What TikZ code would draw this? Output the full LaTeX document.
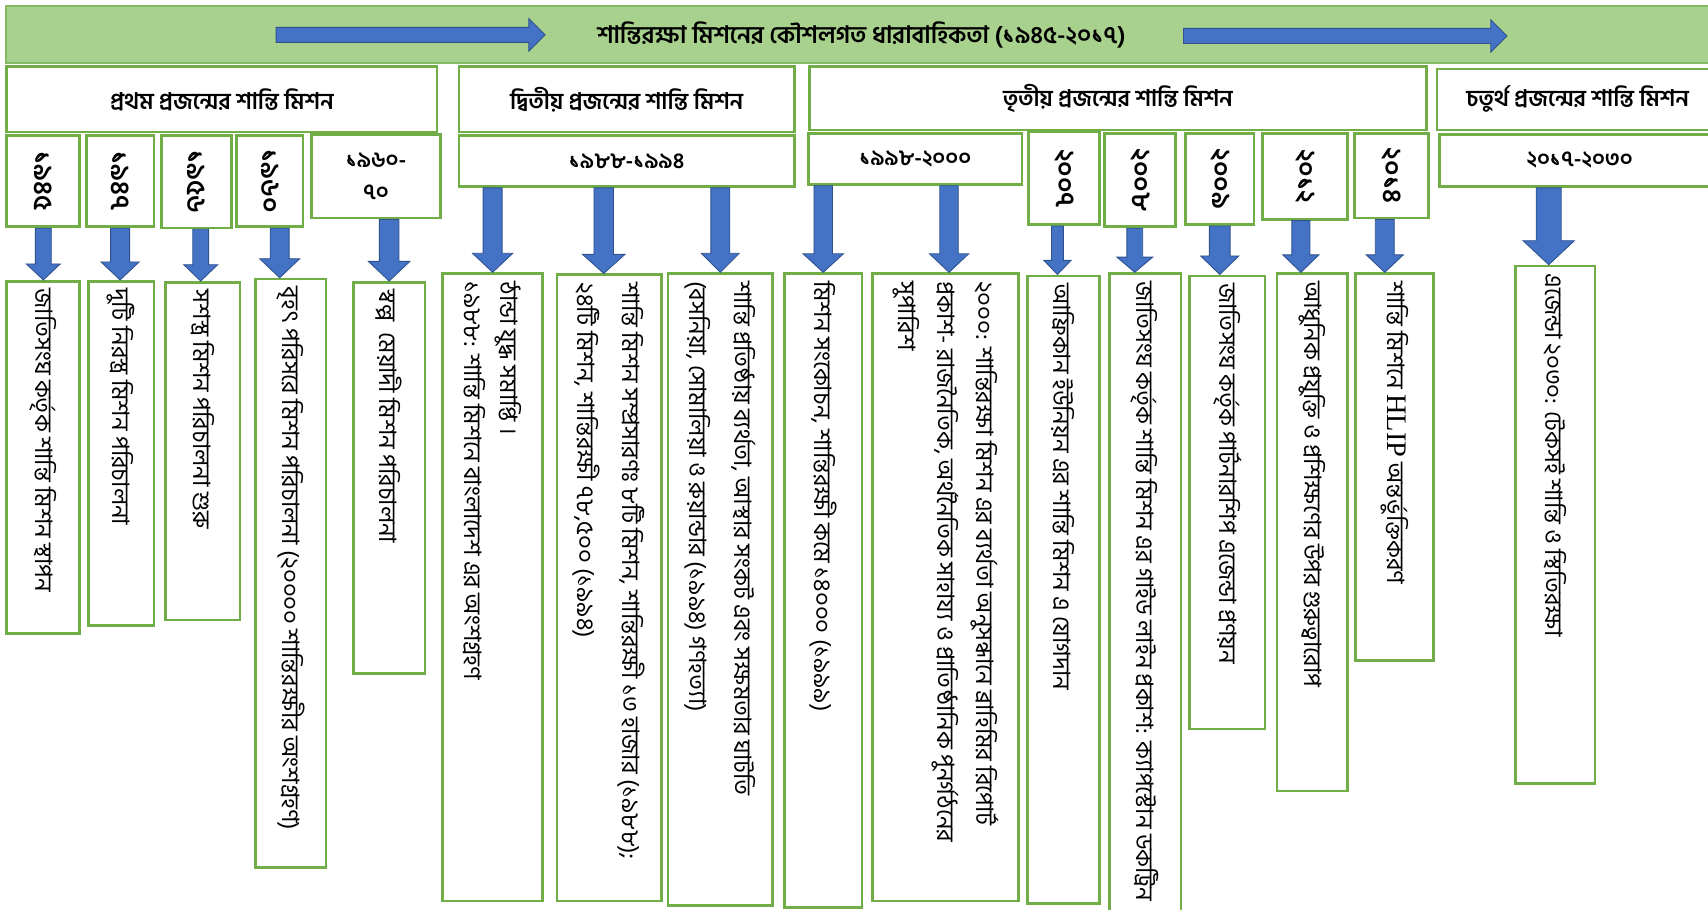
\documentclass[tikz,border=0pt]{standalone}
\usepackage{fontspec}
\setmainfont{Liberation Serif}
\newfontfamily\bnfont[Script=Bengali]{Hind Siliguri}
\newfontfamily\latinfont{Liberation Serif}
\usetikzlibrary{calc, shapes.arrows}

\definecolor{bandgreen}{HTML}{A9D18E}
\definecolor{boxgreen}{HTML}{70AD47}
\definecolor{arrowblue}{HTML}{4472C4}
\definecolor{arrowedge}{HTML}{2F528F}

\newcommand{\titlefont}{\bnfont\bfseries\fontsize{22}{26}\selectfont}
\newcommand{\genfont}{\bnfont\bfseries\fontsize{21}{25}\selectfont}
\newcommand{\yearfont}{\bnfont\bfseries\fontsize{20}{30}\selectfont}
\newcommand{\vyearfont}{\bnfont\bfseries\fontsize{24}{28}\selectfont}
\newcommand{\notefont}{\bnfont\fontsize{22}{37}\selectfont}

\begin{document}
\begin{tikzpicture}[x=1pt, y=-1pt,
    box/.style={draw=boxgreen, line width=2.5pt, fill=white, inner sep=0pt, anchor=north west},
    genbox/.style={box, font=\genfont},
    yearbox/.style={box, font=\yearfont, align=center},
    notebox/.style={box},
    vyear/.style={rotate=-90, font=\vyearfont, inner sep=0pt},
    notetxt/.style={rotate=-90, anchor=west, align=left, font=\notefont, inner sep=0pt},
    bandarrow/.style={single arrow, draw=arrowedge, fill=arrowblue, line width=0.8pt, inner xsep=0pt, inner ysep=6.5pt,
        single arrow head extend=8pt, single arrow tip angle=90, single arrow head indent=0pt},
    downarrow/.style n args={3}{draw=arrowedge, fill=arrowblue, line width=0.8pt,
        to path={let \p1=(\tikztostart), \p2=(\tikztotarget) in
            (\x1-#1pt,\y1) -- (\x1+#1pt,\y1) -- (\x1+#1pt,\y2+#3pt) -- (\x1+#2pt,\y2+#3pt)
            -- (\x1,\y2) -- (\x1-#2pt,\y2+#3pt) -- (\x1-#1pt,\y2+#3pt) -- cycle}}]
                \useasboundingbox (0,0) rectangle (1568,835);

                \node[box, fill=bandgreen, draw=boxgreen!85, line width=1.5pt, font=\titlefont,
                    minimum width=1570, minimum height=52] (band) at (5,5) {শান্তিরক্ষা মিশনের কৌশলগত ধারাবাহিকতা (১৯৪৫-২০১৭)};
                \node[bandarrow, minimum height=247] (bandL) at (373.5,32) {};
                \node[bandarrow, minimum height=297] (bandR) at (1231.5,33) {};

                \node[genbox, minimum width=395, minimum height=60] (G1) at (5,60) {প্রথম প্রজন্মের শান্তি মিশন};
                \node[genbox, minimum width=308, minimum height=60] (G2) at (420,60) {দ্বিতীয় প্রজন্মের শান্তি মিশন};
                \node[genbox, minimum width=566, minimum height=58] (G3) at (742,60) {তৃতীয় প্রজন্মের শান্তি মিশন};
                \node[genbox, minimum width=258, minimum height=56] (G4) at (1318,62) {চতুর্থ প্রজন্মের শান্তি মিশন};

                \node[yearbox, minimum width=67, minimum height=84] (Y1) at (5,123) {};
                \node[yearbox, minimum width=62, minimum height=84] (Y2) at (78,123) {};
                \node[yearbox, minimum width=64, minimum height=85] (Y3) at (147,123) {};
                \node[yearbox, minimum width=61, minimum height=84] (Y4) at (216,123) {};
                \node[yearbox, minimum width=118, minimum height=77] (Y5) at (285,122) {১৯৬০-\\৭০};
                \node[yearbox, minimum width=308, minimum height=47] (Y6) at (420,123) {১৯৮৮-১৯৯৪};
                \node[yearbox, minimum width=196, minimum height=47] (Y7) at (741,121) {১৯৯৮-২০০০};
                \node[yearbox, minimum width=65, minimum height=85] (Y8) at (943,120) {};
                \node[yearbox, minimum width=65, minimum height=86] (Y9) at (1013,121) {};
                \node[yearbox, minimum width=63, minimum height=84] (Y10) at (1087,121) {};
                \node[yearbox, minimum width=78, minimum height=79] (Y11) at (1158,121) {};
                \node[yearbox, minimum width=68, minimum height=78] (Y12) at (1242,121) {};
                \node[yearbox, minimum width=258, minimum height=48] (Y13) at (1320,122) {২০১৭-২০৩০};

                \node[vyear] (Y1t) at (Y1) {১৯৪৫};
                \node[vyear] (Y2t) at (Y2) {১৯৪৭};
                \node[vyear] (Y3t) at (Y3) {১৯৫৬};
                \node[vyear] (Y4t) at (Y4) {১৯৬০};
                \node[vyear] (Y8t) at (Y8) {২০০৭};
                \node[vyear] (Y9t) at (Y9) {২০০৮};
                \node[vyear] (Y10t) at (Y10) {২০০৯};
                \node[vyear] (Y11t) at (Y11) {২০১২};
                \node[vyear] (Y12t) at (Y12) {২০১৪};

                \node[notebox, minimum width=67, minimum height=323] (T1) at (5,257) {};
                \node[notebox, minimum width=60, minimum height=316] (T2) at (80,257) {};
                \node[notebox, minimum width=68, minimum height=310] (T3) at (151,258) {};
                \node[notebox, minimum width=65, minimum height=540] (T4) at (233,255) {};
                \node[notebox, minimum width=66, minimum height=359] (T5) at (323,258) {};
                \node[notebox, minimum width=92, minimum height=576] (T6) at (405,250) {};
                \node[notebox, minimum width=96, minimum height=575] (T7) at (510,251) {};
                \node[notebox, minimum width=96, minimum height=580] (T8) at (612,250) {};
                \node[notebox, minimum width=71, minimum height=582] (T9) at (719,250) {};
                \node[notebox, minimum width=134, minimum height=576] (T10) at (800,250) {};
                \node[notebox, minimum width=66, minimum height=576] (T11) at (942,252) {};
                \node[notebox, minimum width=66, minimum height=600] (T12) at (1017,250) {};
                \node[notebox, minimum width=69, minimum height=416] (T13) at (1091,252) {};
                \node[notebox, minimum width=65, minimum height=475] (T14) at (1171,250) {};
                \node[notebox, minimum width=72, minimum height=355] (T15) at (1243,250) {};
                \node[notebox, minimum width=73, minimum height=475] (T16) at (1390,243) {};

                \node[notetxt] (T1t) at ([yshift=-8pt]T1.north) {জাতিসংঘ কর্তৃক শান্তি মিশন স্থাপন};
                \node[notetxt] (T2t) at ([yshift=-8pt]T2.north) {দুটি নিরস্ত্র মিশন পরিচালনা};
                \node[notetxt] (T3t) at ([yshift=-8pt]T3.north) {সশস্ত্র মিশন পরিচালনা শুরু};
                \node[notetxt] (T4t) at ([yshift=-8pt]T4.north) {বৃহৎ পরিসরে মিশন পরিচালনা (২০০০০ শান্তিরক্ষীর অংশগ্রহণ)};
                \node[notetxt] (T5t) at ([yshift=-8pt]T5.north) {স্বল্প\ \ মেয়াদী মিশন পরিচালনা};
                \node[notetxt, font=\bnfont\fontsize{22}{33}\selectfont] (T6t) at ([yshift=-8pt]T6.north) {ঠান্ডা যুদ্ধ সমাপ্তি ।\\১৯৮৮: শান্তি মিশনে বাংলাদেশ এর অংশগ্রহণ};
                \node[notetxt, font=\bnfont\fontsize{22}{41}\selectfont] (T7t) at ([yshift=-8pt]T7.north) {শান্তি মিশন সম্প্রসারণঃ ৮টি মিশন, শান্তিরক্ষী ১৩ হাজার (১৯৮৮);\\২৪টি মিশন, শান্তিরক্ষী ৭৮,৫০০ (১৯৯৪)};
                \node[notetxt, font=\bnfont\fontsize{22}{41}\selectfont] (T8t) at ([yshift=-8pt]T8.north) {শান্তি প্রতিষ্ঠায় ব্যর্থতা, আস্থার সংকট এবং সক্ষমতার ঘাটতি\\(বসনিয়া, সোমালিয়া ও রুয়ান্ডার (১৯৯৪) গণহত্যা)};
                \node[notetxt] (T9t) at ([yshift=-8pt]T9.north) {মিশন সংকোচন, শান্তিরক্ষী কমে ১৪০০০ (১৯৯৯)};
                \node[notetxt, font=\bnfont\fontsize{22}{36}\selectfont] (T10t) at ([yshift=-8pt]T10.north) {২০০০: শান্তিরক্ষা মিশন এর ব্যর্থতা অনুসন্ধানে ব্রাহিমির রিপোর্ট\\প্রকাশ- রাজনৈতিক, অর্থনৈতিক সাহায্য ও প্রাতিষ্ঠানিক পুনর্গঠনের\\সুপারিশ};
                \node[notetxt] (T11t) at ([yshift=-8pt]T11.north) {আফ্রিকান ইউনিয়ন এর শান্তি মিশন এ যোগদান};
                \node[notetxt] (T12t) at ([yshift=-8pt]T12.north) {জাতিসংঘ কর্তৃক শান্তি মিশন এর গাইড লাইন প্রকাশ: ক্যাপস্টোন ডকট্রিন};
                \node[notetxt] (T13t) at ([yshift=-8pt]T13.north) {জাতিসংঘ কর্তৃক পার্টনারশিপ এজেন্ডা প্রণয়ন};
                \node[notetxt] (T14t) at ([yshift=-8pt]T14.north) {আধুনিক প্রযুক্তি ও প্রশিক্ষণের উপর গুরুত্বারোপ};
                \node[notetxt] (T15t) at ([yshift=-8pt]T15.north) {শান্তি মিশনে {\latinfont\fontsize{26}{30}\selectfont HLIP} অন্তর্ভুক্তিকরণ};
                \node[notetxt] (T16t) at ([yshift=-8pt]T16.north) {এজেন্ডা ২০৩০: টেকসই শান্তি ও স্থিতিরক্ষা};

                \draw[downarrow={7.3}{15.6}{14.7}] (Y1.south) to (T1.north);
                \draw[downarrow={8.7}{17.5}{16.5}] (Y2.south) to (T2.north);
                \draw[downarrow={7.3}{15.6}{15}] ([xshift=4pt]Y3.south) to (T3.north);
                \draw[downarrow={8.7}{18.4}{17.5}] ([xshift=9pt]Y4.south) to (T4.north);
                \draw[downarrow={9}{19}{18}] (Y5.south -| T5.north) to (T5.north);
                \draw[downarrow={8.7}{18.5}{17.5}] (Y6.south -| T6.north) to (T6.north);
                \draw[downarrow={9}{19.5}{17.5}] ([xshift=-5pt]Y6.south -| T7.north) to (T7.north);
                \draw[downarrow={8.7}{17.5}{17.5}] (Y6.south -| T8.north) to (T8.north);
                \draw[downarrow={8.5}{18.5}{17}] (Y7.south -| T9.north) to (T9.north);
                \draw[downarrow={8.5}{18}{17}] ([xshift=3pt]Y7.south -| T10.north) to (T10.north);
                \draw[downarrow={5.5}{12.5}{13}] ([xshift=-6pt]Y8.south) to (T11.north);
                \draw[downarrow={7.3}{16.5}{14}] ([xshift=-5pt]Y9.south) to (T12.north);
                \draw[downarrow={9.5}{17.5}{17}] (Y10.south) to (T13.north);
                \draw[downarrow={8.3}{16.5}{16}] ([xshift=-4pt]Y11.south) to (T14.north);
                \draw[downarrow={8.7}{17}{16}] ([xshift=-6pt]Y12.south) to (T15.north);
                \draw[downarrow={11.5}{23.5}{22}] ([xshift=-6pt]Y13.south -| T16.north) to (T16.north);
            \end{tikzpicture}
\end{document}
